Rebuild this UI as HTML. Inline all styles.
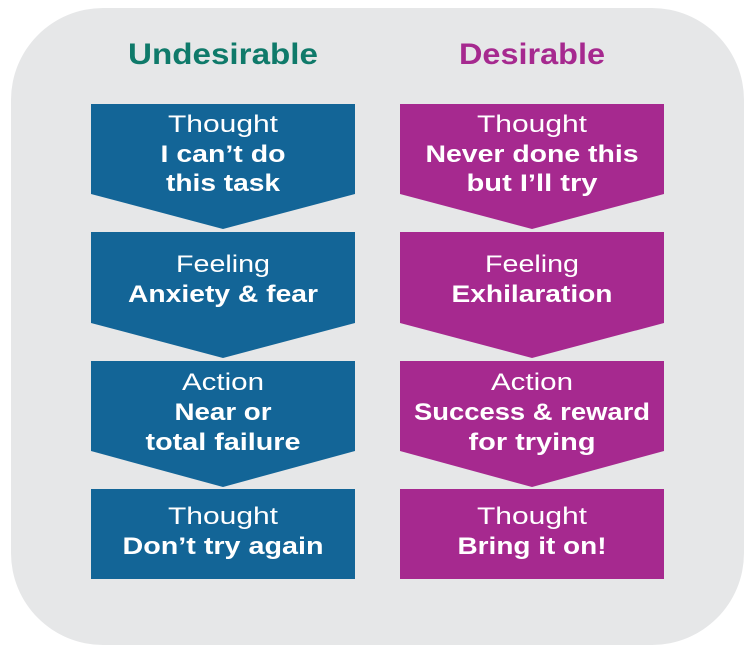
<!DOCTYPE html>
<html><head><style>html,body{margin:0;padding:0;background:#fff}svg{display:block}</style></head>
<body>
<svg width="750" height="659" viewBox="0 0 750 659" xmlns="http://www.w3.org/2000/svg" font-family="Liberation Sans, sans-serif" text-anchor="middle">
<rect x="11" y="8" width="733" height="637" rx="92" fill="#e6e7e8"/>
<text x="223" y="64" font-size="30" font-weight="bold" fill="#0f7a6a" textLength="190" lengthAdjust="spacingAndGlyphs">Undesirable</text>
<text x="532" y="64" font-size="30" font-weight="bold" fill="#a6298f" textLength="146" lengthAdjust="spacingAndGlyphs">Desirable</text>
<g fill="#136597">
<polygon points="91,104 355,104 355,194 223,229 91,194"/>
<polygon points="91,232 355,232 355,323 223,358 91,323"/>
<polygon points="91,361 355,361 355,451 223,487 91,451"/>
<rect x="91" y="489" width="264" height="90"/>
</g>
<g fill="#a6298f">
<polygon points="400,104 664,104 664,194 532,229 400,194"/>
<polygon points="400,232 664,232 664,323 532,358 400,323"/>
<polygon points="400,361 664,361 664,451 532,487 400,451"/>
<rect x="400" y="489" width="264" height="90"/>
</g>
<g fill="#fff" font-size="24" lengthAdjust="spacingAndGlyphs">
<text x="223" y="132" textLength="110" lengthAdjust="spacingAndGlyphs">Thought</text>
<text x="223" y="162" font-weight="bold" textLength="125" lengthAdjust="spacingAndGlyphs">I can’t do</text>
<text x="223" y="191" font-weight="bold" textLength="114" lengthAdjust="spacingAndGlyphs">this task</text>
<text x="223" y="272" textLength="94" lengthAdjust="spacingAndGlyphs">Feeling</text>
<text x="223" y="302" font-weight="bold" textLength="190" lengthAdjust="spacingAndGlyphs">Anxiety &amp; fear</text>
<text x="223" y="390" textLength="82" lengthAdjust="spacingAndGlyphs">Action</text>
<text x="223" y="420" font-weight="bold" textLength="97" lengthAdjust="spacingAndGlyphs">Near or</text>
<text x="223" y="450" font-weight="bold" textLength="155" lengthAdjust="spacingAndGlyphs">total failure</text>
<text x="223" y="524" textLength="110" lengthAdjust="spacingAndGlyphs">Thought</text>
<text x="223" y="554" font-weight="bold" textLength="201" lengthAdjust="spacingAndGlyphs">Don’t try again</text>
<text x="532" y="132" textLength="110" lengthAdjust="spacingAndGlyphs">Thought</text>
<text x="532" y="162" font-weight="bold" textLength="213" lengthAdjust="spacingAndGlyphs">Never done this</text>
<text x="532" y="191" font-weight="bold" textLength="131" lengthAdjust="spacingAndGlyphs">but I’ll try</text>
<text x="532" y="272" textLength="94" lengthAdjust="spacingAndGlyphs">Feeling</text>
<text x="532" y="302" font-weight="bold" textLength="161" lengthAdjust="spacingAndGlyphs">Exhilaration</text>
<text x="532" y="390" textLength="82" lengthAdjust="spacingAndGlyphs">Action</text>
<text x="532" y="420" font-weight="bold" textLength="236" lengthAdjust="spacingAndGlyphs">Success &amp; reward</text>
<text x="532" y="450" font-weight="bold" textLength="127" lengthAdjust="spacingAndGlyphs">for trying</text>
<text x="532" y="524" textLength="110" lengthAdjust="spacingAndGlyphs">Thought</text>
<text x="532" y="554" font-weight="bold" textLength="149" lengthAdjust="spacingAndGlyphs">Bring it on!</text>
</g>
</svg>
</body></html>
